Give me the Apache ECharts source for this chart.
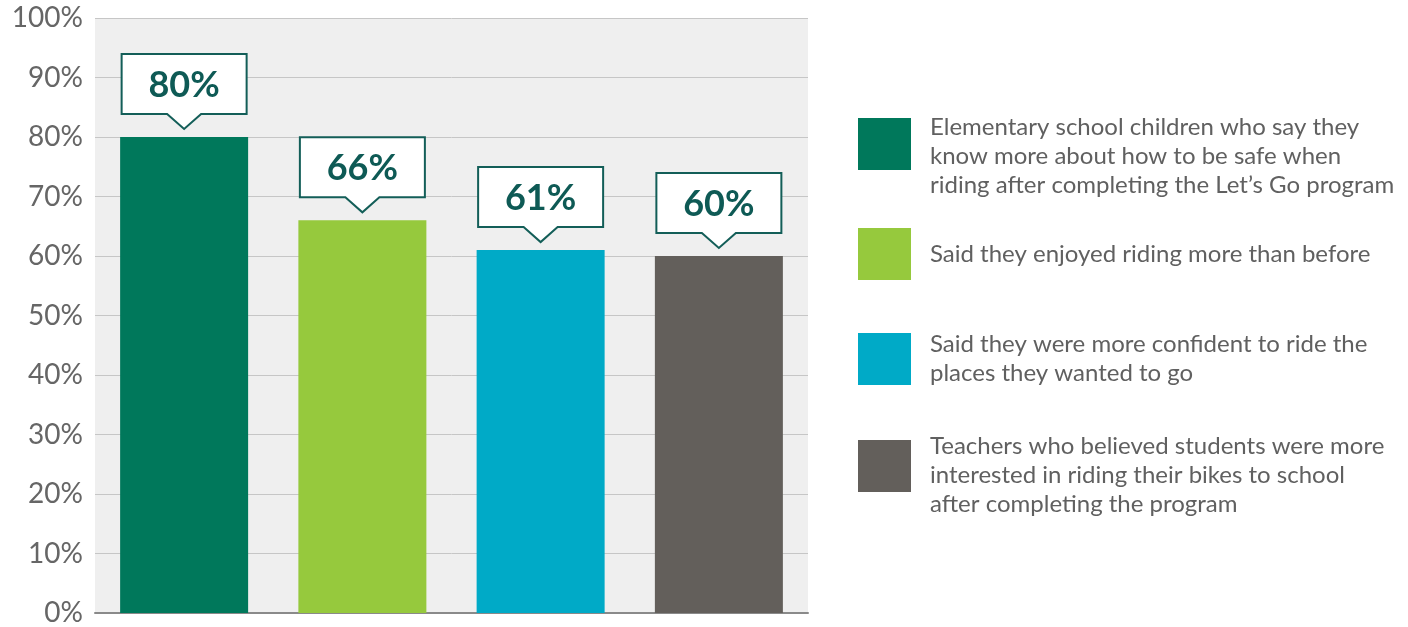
<!DOCTYPE html>
<html>
<head>
<meta charset="utf-8">
<script src="https://cdn.jsdelivr.net/npm/echarts@6/dist/echarts.min.js"></script>
<style>
html,body{margin:0;padding:0;background:#fff;}
#c{width:1408px;height:627px;}
</style>
</head>
<body>
<div id="c"></div>
<script>
const categories = ['A', 'B', 'C', 'D'];
const seriesNames = [
  'Elementary school children who say they know more about how to be safe when riding after completing the Let\u2019s Go program',
  'Said they enjoyed riding more than before',
  'Said they were more confident to ride the places they wanted to go',
  'Teachers who believed students were more interested in riding their bikes to school after completing the program'
];
const legendLines = [
  ['Elementary school children who say they', 'know more about how to be safe when', 'riding after completing the Let\u2019s Go program'],
  ['Said they enjoyed riding more than before'],
  ['Said they were more confident to ride the', 'places they wanted to go'],
  ['Teachers who believed students were more', 'interested in riding their bikes to school', 'after completing the program']
];
const values = [80, 66, 61, 60];
const colors = ['#00785b', '#96c93d', '#00aac7', '#635f5b'];
const yTicks = { min: 0, max: 100, interval: 10 };

const chart = echarts.init(document.getElementById('c'));

const barSeries = values.map((v, i) => ({
  name: seriesNames[i],
  type: 'bar',
  stack: 'all',
  barWidth: 128,
  itemStyle: { color: colors[i] },
  data: categories.map((c, j) => (j === i ? v : '-'))
}));

const calloutSeries = {
  type: 'custom',
  name: 'callouts',
  z: 10,
  data: values.map((v, i) => [i, v]),
  renderItem: function (params, api) {
    const p = api.coord([api.value(0), api.value(1)]);
    const x = p[0], y = p[1];
    const w = 125, h = 60, gap = 23, tip = 8, half = 17;
    const bottom = y - gap, top = bottom - h;
    return {
      type: 'group',
      children: [
        {
          type: 'polygon',
          shape: {
            points: [
              [x - w / 2, top], [x + w / 2, top], [x + w / 2, bottom],
              [x + half, bottom], [x, y - tip], [x - half, bottom], [x - w / 2, bottom]
            ]
          },
          style: { fill: '#ffffff', stroke: '#135e58', lineWidth: 2 }
        },
        {
          type: 'text',
          x: x,
          y: top + h / 2 + 1,
          style: {
            text: api.value(1) + '%',
            fill: '#0e5a55',
            font: 'bold 36px Lato',
            align: 'center',
            verticalAlign: 'middle'
          }
        }
      ]
    };
  }
};

const legendTops = [88.5, 228, 330, 413.5];
const legendSpacer = [24, 0, 0, 18];
const legends = seriesNames.map((n, i) => ({
  show: true,
  orient: 'vertical',
  left: 858,
  top: legendTops[i],
  padding: 0,
  itemWidth: 53,
  itemHeight: 52,
  itemGap: 0,
  icon: 'rect',
  selectedMode: false,
  data: [n],
  formatter: () => {
    const body = legendLines[i].map(l => '{t|' + l + '}').join('\n');
    return legendSpacer[i] ? '{s| }\n' + body : body;
  },
  textStyle: {
    fontFamily: 'Lato',
    fontSize: 24,
    lineHeight: 29,
    color: '#606060',
    padding: [0, 0, 0, 14],
    rich: {
      s: { fontSize: 2, lineHeight: legendSpacer[i] || 1, height: legendSpacer[i] || 1 },
      t: { fontFamily: 'Lato', fontSize: 24, lineHeight: 29, color: '#606060' }
    }
  }
}));

chart.setOption({
  animation: false,
  legend: legends,
  grid: {
    left: 95, right: 600, top: 18, bottom: 12,
    show: true, backgroundColor: '#efefef', borderWidth: 0
  },
  xAxis: {
    type: 'category',
    data: categories,
    axisLabel: { show: false },
    axisTick: { show: false },
    axisLine: { show: true, lineStyle: { color: '#8a8a8a', width: 2 } }
  },
  yAxis: {
    type: 'value',
    min: yTicks.min,
    max: yTicks.max,
    interval: yTicks.interval,
    axisLine: { show: false },
    axisTick: { show: false },
    splitLine: { lineStyle: { color: '#c6c6c6', width: 1 } },
    axisLabel: {
      formatter: '{value}%',
      fontFamily: 'Lato',
      fontSize: 28,
      color: '#666666',
      margin: 12
    }
  },
  series: barSeries.concat([calloutSeries])
});
</script>
</body>
</html>
